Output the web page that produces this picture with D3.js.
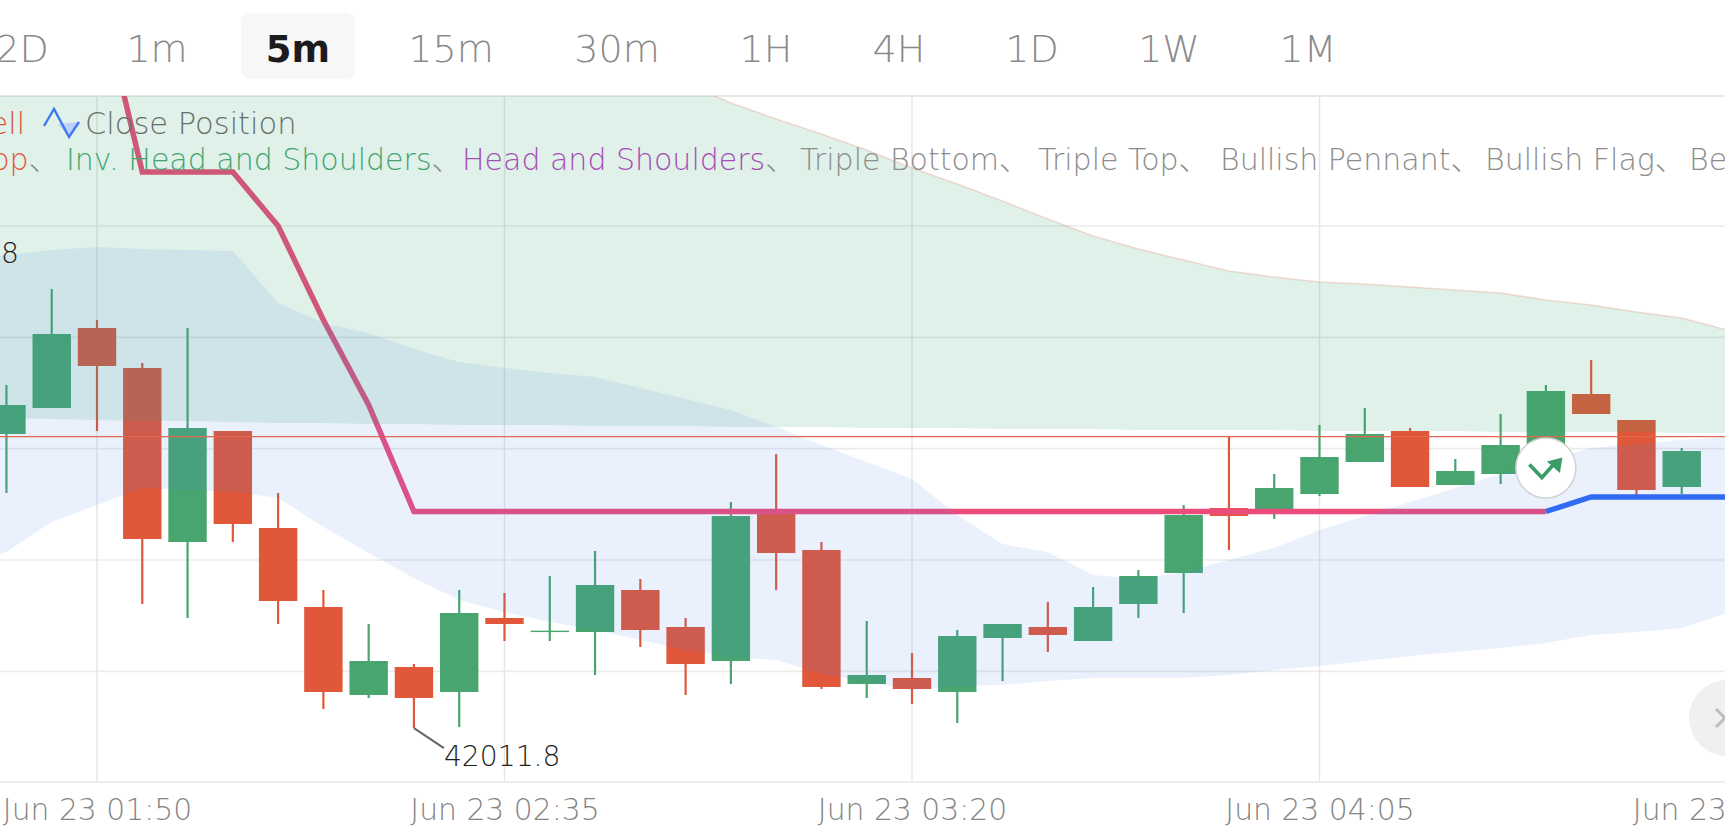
<!DOCTYPE html>
<html>
<head>
<meta charset="utf-8">
<script src="https://cdn.jsdelivr.net/npm/d3@7"></script>
<style>
  html, body { margin: 0; padding: 0; background: #fff; overflow: hidden; }
  text { font-family: "DejaVu Sans", sans-serif; }
</style>
</head>
<body>
<svg id="chart"></svg>
<script>
const width = 1725;
const height = 835;

// time frame tabs
const tabs = ["2D", "1m", "5m", "15m", "30m", "1H", "4H", "1D", "1W", "1M"];
const activeTab = "5m";

// candles, first one is index -2, index 0 sits on the 01:50 grid line
const firstIndex = -2;
const opens  = [42453, 42492, 42612, 42552, 42291, 42457.5, 42312, 42193.5, 42061.5, 42103.5, 42066, 42177, 42158, 42156, 42219, 42163.5, 42112.5, 42336, 42279, 42078, 42087, 42066, 42147, 42163.5, 42142.5, 42198, 42244.5, 42342, 42339, 42363, 42411, 42457.5, 42376.5, 42393, 42436.5, 42513, 42474, 42373.5];
const highs  = [42526.5, 42670.5, 42624, 42559.5, 42612, 42457.5, 42364.5, 42219, 42168, 42108, 42219, 42214.5, 42240, 42277.5, 42235.5, 42177, 42351, 42423, 42291, 42172.5, 42124.5, 42159, 42168, 42201, 42223.5, 42249, 42346.5, 42448.5, 42393, 42466.5, 42492, 42462, 42415.5, 42483, 42526.5, 42564, 42474, 42432];
const lows   = [42364.5, 42492, 42457.5, 42198, 42177, 42291, 42168, 42040.5, 42057, 42011.8, 42013.5, 42142.5, 42142.5, 42091.5, 42133.5, 42061.5, 42078, 42219, 42070.5, 42057, 42048, 42019.5, 42082.5, 42126, 42142.5, 42177, 42184.5, 42279, 42325.5, 42360, 42411, 42373.5, 42376.5, 42378, 42436.5, 42483, 42361.5, 42363];
const closes = [42496.5, 42603, 42555, 42295.5, 42462, 42318, 42202.5, 42066, 42112.5, 42057, 42184.5, 42168, 42158, 42226.5, 42159, 42108, 42330, 42274.5, 42073.5, 42091.5, 42070.5, 42150, 42168, 42151.5, 42193.5, 42240, 42331.5, 42330, 42372, 42418.5, 42453, 42373.5, 42397.5, 42436.5, 42517.5, 42483, 42369, 42427.5];

// cloud bands, first value is index -3, last is index 36
const bandFirstIndex = -3;
const greenUpper = [42999, 42999, 42999, 42999, 42999, 42999, 42999, 42999, 42999, 42999, 42999, 42999, 42999, 42999, 42999, 42999, 42979.5, 42949.5, 42925.5, 42903, 42879, 42852, 42828, 42802.5, 42775.5, 42750, 42730.5, 42714, 42697.5, 42688.5, 42681, 42678, 42673.5, 42669, 42664.5, 42654, 42646.5, 42636, 42627, 42609];
const greenLower = [42478.5, 42477, 42475.5, 42474, 42472.5, 42472.5, 42471, 42469.5, 42469.5, 42468, 42468, 42466.5, 42466.5, 42466.5, 42465, 42465, 42465, 42463.5, 42463.5, 42463.5, 42462, 42462, 42462, 42460.5, 42460.5, 42460.5, 42459, 42459, 42459, 42459, 42457.5, 42457.5, 42457.5, 42457.5, 42456, 42456, 42456, 42456, 42454.5, 42454.5];
const blueUpper = [42717, 42721.5, 42729, 42733.5, 42730.5, 42729, 42727.5, 42649.5, 42619.5, 42604.5, 42580.5, 42561, 42552, 42544.5, 42538.5, 42522, 42505.5, 42489, 42463.5, 42436.5, 42411, 42385.5, 42331.5, 42288, 42276, 42241.5, 42235.5, 42246, 42264, 42282, 42309, 42330, 42351, 42372, 42393, 42412.5, 42432, 42438, 42444, 42448.5];
const blueLower = [42249, 42276, 42321, 42346.5, 42372, 42369, 42366, 42357, 42313.5, 42274.5, 42237, 42204, 42186, 42171, 42159, 42144, 42129, 42118.5, 42114, 42093, 42081, 42069, 42075, 42076.5, 42082.5, 42087, 42087, 42087, 42091.5, 42099, 42105, 42112.5, 42120, 42126, 42132, 42139.5, 42151.5, 42156, 42162, 42184.5];

// stop line, index 0 to 36, turns blue after index 32
const stopLine = [43131, 42846, 42846, 42846, 42765, 42624, 42496.5, 42336.75, 42336.75, 42336.75, 42336.75, 42336.75, 42336.75, 42336.75, 42336.75, 42336.75, 42336.75, 42336.75, 42336.75, 42336.75, 42336.75, 42336.75, 42336.75, 42336.75, 42336.75, 42336.75, 42336.75, 42336.75, 42336.75, 42336.75, 42336.75, 42336.75, 42336.75, 42358.5, 42358.5, 42358.5, 42358.5];
const stopSwitch = 32;
const signalIndex = 32;

const lastPrice = 42449;
const lowPrice = 42011.8;
const lowIndex = 7;

const gridPrices = [42765, 42598, 42431, 42264, 42097];
const timeTicks = [0, 9, 18, 27, 36];
const timeLabels = ["Jun 23 01:50", "Jun 23 02:35", "Jun 23 03:20", "Jun 23 04:05", "Jun 23 04:50"];

// legend rows
const sellLabel = "Sell";
const closeLabel = "Close Position";
const patternNames = ["Top", "Inv. Head and Shoulders", "Head and Shoulders", "Triple Bottom", "Triple Top", "Bullish Pennant", "Bullish Flag", "Bearish Flag"];

const red = "#e0573a";
const green = "#49a56f";
const lightWeight = 200;

const plotTop = 96;
const plotBottom = 782;

const x = d3.scaleLinear().domain([0, 36]).range([97, 1727]);
const y = d3.scaleLinear().domain([41931, 42960]).range([plotBottom, plotTop]);

const svg = d3.select("#chart")
  .attr("width", width)
  .attr("height", height)
  .style("display", "block");

svg.append("defs").append("clipPath")
  .attr("id", "plot-clip")
  .append("rect")
    .attr("x", 0)
    .attr("y", plotTop)
    .attr("width", width)
    .attr("height", plotBottom - plotTop);

// time frame tabs
const tabX = [22, 157, 298, 451, 617, 766, 899, 1032, 1169, 1308];
svg.append("rect")
  .attr("x", 241).attr("y", 13)
  .attr("width", 114).attr("height", 66)
  .attr("rx", 9)
  .attr("fill", "#f7f7f7");
svg.append("g").selectAll("text")
  .data(tabs)
  .join("text")
    .attr("x", (d, i) => tabX[i])
    .attr("y", 62)
    .attr("text-anchor", "middle")
    .attr("font-size", d => d === activeTab ? 37 : 38)
    .attr("font-weight", d => d === activeTab ? 700 : lightWeight)
    .attr("fill", d => d === activeTab ? "#1c1c1c" : "#8a8a8a")
    .text(d => d);

// grid
const grid = svg.append("g");
grid.selectAll("line.h")
  .data(gridPrices)
  .join("line")
    .attr("class", "h")
    .attr("x1", 0).attr("x2", width)
    .attr("y1", d => y(d)).attr("y2", d => y(d))
    .attr("stroke", "#ebebeb")
    .attr("stroke-width", 1.6);
grid.selectAll("line.v")
  .data(timeTicks)
  .join("line")
    .attr("class", "v")
    .attr("x1", d => x(d)).attr("x2", d => x(d))
    .attr("y1", plotTop).attr("y2", plotBottom)
    .attr("stroke", "#e6e6e6")
    .attr("stroke-width", 1.4);
grid.append("line")
  .attr("x1", 0).attr("x2", width)
  .attr("y1", plotTop).attr("y2", plotTop)
  .attr("stroke", "#e9e9e9")
  .attr("stroke-width", 2);
grid.append("line")
  .attr("x1", 0).attr("x2", width)
  .attr("y1", plotBottom).attr("y2", plotBottom)
  .attr("stroke", "#e9e9e9")
  .attr("stroke-width", 1.4);

// x axis labels
const xAxis = d3.axisBottom(x)
  .tickValues(timeTicks)
  .tickFormat((d, i) => timeLabels[i])
  .tickSize(0)
  .tickPadding(0);
const axisG = svg.append("g")
  .attr("transform", `translate(0, ${plotBottom})`)
  .call(xAxis);
axisG.select(".domain").remove();
axisG.selectAll("text")
  .attr("dy", 0)
  .attr("y", 38)
  .style("font-family", "'DejaVu Sans', sans-serif")
  .style("font-size", "29.8px")
  .style("font-weight", lightWeight)
  .style("fill", "#858585");

const plot = svg.append("g").attr("clip-path", "url(#plot-clip)");

// candles
const candles = opens.map((o, i) => ({
  index: firstIndex + i, open: o, high: highs[i], low: lows[i], close: closes[i]
}));
const candleColor = d => d.close >= d.open ? green : red;

plot.append("g").selectAll("line")
  .data(candles)
  .join("line")
    .attr("x1", d => x(d.index)).attr("x2", d => x(d.index))
    .attr("y1", d => y(d.high)).attr("y2", d => y(d.low))
    .attr("stroke", candleColor)
    .attr("stroke-width", 2.2);

plot.append("g").selectAll("rect")
  .data(candles)
  .join("rect")
    .attr("x", d => x(d.index) - 19.2)
    .attr("y", d => y(Math.max(d.open, d.close)))
    .attr("width", 38.4)
    .attr("height", d => Math.max(1.4, Math.abs(y(d.open) - y(d.close))))
    .attr("fill", candleColor);

// stop line
const stopPoints = stopLine.map((v, i) => ({ index: i, value: v }));
const stopPath = d3.line().x(d => x(d.index)).y(d => y(d.value));
plot.append("path")
  .attr("d", stopPath(stopPoints.filter(d => d.index <= stopSwitch)))
  .attr("fill", "none")
  .attr("stroke", "#ec4c7c")
  .attr("stroke-width", 5.5);
plot.append("path")
  .attr("d", stopPath(stopPoints.filter(d => d.index >= stopSwitch)))
  .attr("fill", "none")
  .attr("stroke", "#2f68f5")
  .attr("stroke-width", 5.5);

// cloud bands sit above the candles and tint them
const bandPoints = (upper, lower) => upper.map((u, i) => ({
  index: bandFirstIndex + i, upper: u, lower: lower[i]
}));
const bandArea = d3.area()
  .x(d => x(d.index))
  .y0(d => y(d.lower))
  .y1(d => y(d.upper));

const greenBand = bandPoints(greenUpper, greenLower);
plot.append("path")
  .attr("d", bandArea(greenBand))
  .attr("fill", "rgba(46,164,106,0.15)");
plot.append("path")
  .attr("d", d3.line().x(d => x(d.index)).y(d => y(d.upper))(greenBand))
  .attr("fill", "none")
  .attr("stroke", "rgba(224,90,60,0.2)")
  .attr("stroke-width", 1.6);
plot.append("path")
  .attr("d", bandArea(bandPoints(blueUpper, blueLower)))
  .attr("fill", "rgba(70,135,235,0.115)");

// last price line
plot.append("line")
  .attr("x1", 0).attr("x2", width)
  .attr("y1", y(lastPrice)).attr("y2", y(lastPrice))
  .attr("stroke", "#e2694f")
  .attr("stroke-width", 1.4);

// low price note
const lowX = x(lowIndex);
const lowY = y(lowPrice);
svg.append("line")
  .attr("x1", lowX).attr("y1", lowY)
  .attr("x2", lowX + 30).attr("y2", lowY + 20)
  .attr("stroke", "#666")
  .attr("stroke-width", 2);
svg.append("text")
  .attr("x", lowX + 30)
  .attr("y", lowY + 38)
  .attr("font-size", 28.2)
  .attr("font-weight", lightWeight)
  .attr("fill", "#1f1f1f")
  .text(lowPrice);

// clipped high price note on the left edge
svg.append("text")
  .attr("x", 19)
  .attr("y", 263)
  .attr("text-anchor", "end")
  .attr("font-size", 28.2)
  .attr("font-weight", lightWeight)
  .attr("fill", "#1f1f1f")
  .text("8");

// open signal on the stop line
const sx = x(signalIndex);
const sy = y(stopLine[signalIndex]) - 43.5;
const signal = svg.append("g").attr("transform", `translate(${sx}, ${sy})`);
signal.append("circle")
  .attr("r", 30)
  .attr("fill", "#fff")
  .attr("stroke", "#cfd3d1")
  .attr("stroke-width", 1.6);
signal.append("path")
  .attr("d", "M-16.5,-3.5 L-4,9.5 L9,-5")
  .attr("fill", "none")
  .attr("stroke", "#3a9c69")
  .attr("stroke-width", 3.6);
signal.append("path")
  .attr("d", "M16.5,-10.5 L14,5 L1,-6.5 Z")
  .attr("fill", "#3a9c69");

// scroll button on the right edge
svg.append("circle")
  .attr("cx", 1727).attr("cy", 718)
  .attr("r", 38)
  .attr("fill", "#f0f0f0");
svg.append("path")
  .attr("d", "M1716,709 L1725,718 L1716,727")
  .attr("fill", "none")
  .attr("stroke", "#bdbdbd")
  .attr("stroke-width", 3);

// legend rows
svg.append("text")
  .attr("x", 25).attr("y", 134)
  .attr("text-anchor", "end")
  .attr("font-size", 30)
  .attr("font-weight", lightWeight)
  .attr("fill", "#d9553a")
  .text(sellLabel);
svg.append("path")
  .attr("d", "M58,124 L69,137 L78,122 Z")
  .attr("fill", "#bcd2fb");
svg.append("path")
  .attr("d", "M44,126 L54,109 L69,137 L79,122")
  .attr("fill", "none")
  .attr("stroke", "#3f78f2")
  .attr("stroke-width", 2.4);
svg.append("text")
  .attr("x", 85).attr("y", 134)
  .attr("font-size", 30.5)
  .attr("font-weight", lightWeight)
  .attr("fill", "#66706b")
  .text(closeLabel);

const patternX = [-22, 66, 462, 800, 1038, 1220, 1485, 1689];
const patternColor = ["#e0573a", "#43a46e", "#a54db6", "#8c8c8c", "#8c8c8c", "#8c8c8c", "#8c8c8c", "#8c8c8c"];
const patterns = svg.append("g");
patterns.selectAll("text")
  .data(patternNames)
  .join("text")
    .attr("x", (d, i) => patternX[i])
    .attr("y", 170)
    .attr("font-size", 30)
    .attr("font-weight", lightWeight)
    .attr("fill", (d, i) => patternColor[i])
    .text(d => d)
    .append("tspan")
      .attr("fill", "#8c8c8c")
      .style("font-family", "'Noto Sans CJK SC'")
      .text("、");
</script>
</body>
</html>
